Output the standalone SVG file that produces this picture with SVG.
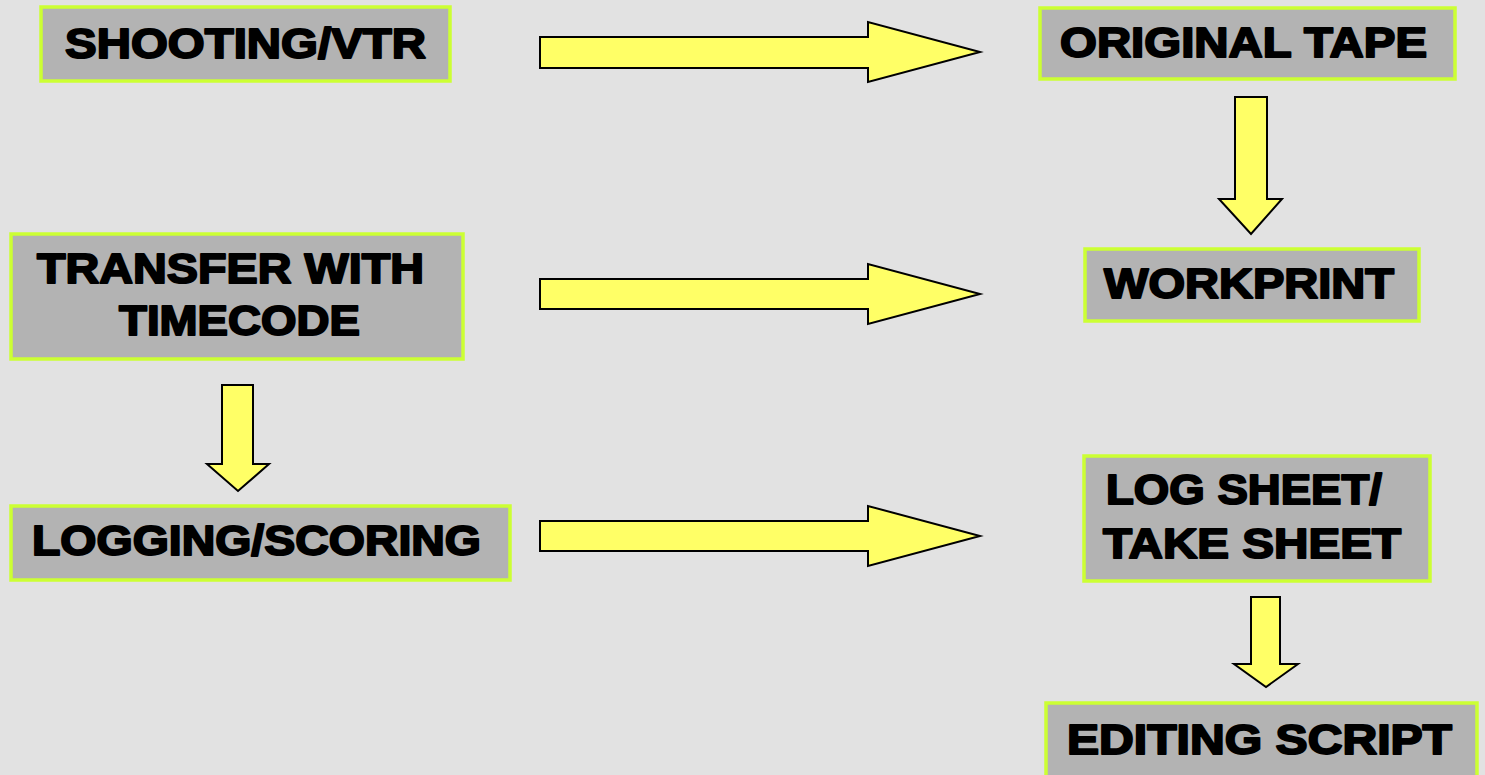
<svg xmlns="http://www.w3.org/2000/svg" width="1485" height="775" viewBox="0 0 1485 775">
<defs>
<style>
.box{fill:#b3b3b3;stroke:#ccff33;stroke-width:3.5}
.lbl{font-family:"Liberation Sans",Arial,sans-serif;font-weight:bold;font-size:43px;fill:#000;stroke:#000;stroke-width:2;stroke-linejoin:round}
.arr{fill:#ffff66;stroke:#000;stroke-width:2;stroke-linejoin:miter}
</style>
</defs>
<rect x="0" y="0" width="1485" height="775" fill="#e2e2e2"/>
<g id="connectors">
<polygon class="arr" points="540,37 868,37 868,22 980,52 868,82 868,68 540,68"/>
<polygon class="arr" points="540,279 868,279 868,264 980,294 868,324 868,309 540,309"/>
<polygon class="arr" points="540,521 868,521 868,506 980,536 868,566 868,551 540,551"/>
<polygon class="arr" points="1235,97 1267,97 1267,199 1282,199 1251,234 1219,199 1235,199"/>
<polygon class="arr" points="222,385 253,385 253,464 269,464 238,491 207,464 222,464"/>
<polygon class="arr" points="1251,597 1280,597 1280,664 1298,664 1266,687 1234,664 1251,664"/>
</g>
<g id="shooting">
<rect class="box" x="41" y="7" width="409" height="74"/>
<text class="lbl" x="65" y="58" textLength="361" lengthAdjust="spacingAndGlyphs">SHOOTING/VTR</text>
</g>
<g id="original-tape">
<rect class="box" x="1040" y="8" width="415" height="71"/>
<text class="lbl" x="1060" y="57" textLength="367" lengthAdjust="spacingAndGlyphs">ORIGINAL TAPE</text>
</g>
<g id="workprint">
<rect class="box" x="1085" y="249" width="334" height="72"/>
<text class="lbl" x="1104" y="298" textLength="290" lengthAdjust="spacingAndGlyphs">WORKPRINT</text>
</g>
<g id="transfer">
<rect class="box" x="11" y="234" width="452" height="125"/>
<text class="lbl" x="37" y="283" textLength="387" lengthAdjust="spacingAndGlyphs">TRANSFER WITH</text>
<text class="lbl" x="119" y="335" textLength="241" lengthAdjust="spacingAndGlyphs">TIMECODE</text>
</g>
<g id="logging">
<rect class="box" x="11" y="506" width="499" height="74"/>
<text class="lbl" x="32" y="555" textLength="449" lengthAdjust="spacingAndGlyphs">LOGGING/SCORING</text>
</g>
<g id="log-sheet">
<rect class="box" x="1084" y="456" width="346" height="125"/>
<text class="lbl" x="1106" y="504" textLength="276" lengthAdjust="spacingAndGlyphs">LOG SHEET/</text>
<text class="lbl" x="1103" y="558" textLength="298" lengthAdjust="spacingAndGlyphs">TAKE SHEET</text>
</g>
<g id="editing-script">
<rect class="box" x="1046" y="703" width="431" height="90"/>
<text class="lbl" x="1067" y="754" textLength="385" lengthAdjust="spacingAndGlyphs">EDITING SCRIPT</text>
</g>
</svg>
